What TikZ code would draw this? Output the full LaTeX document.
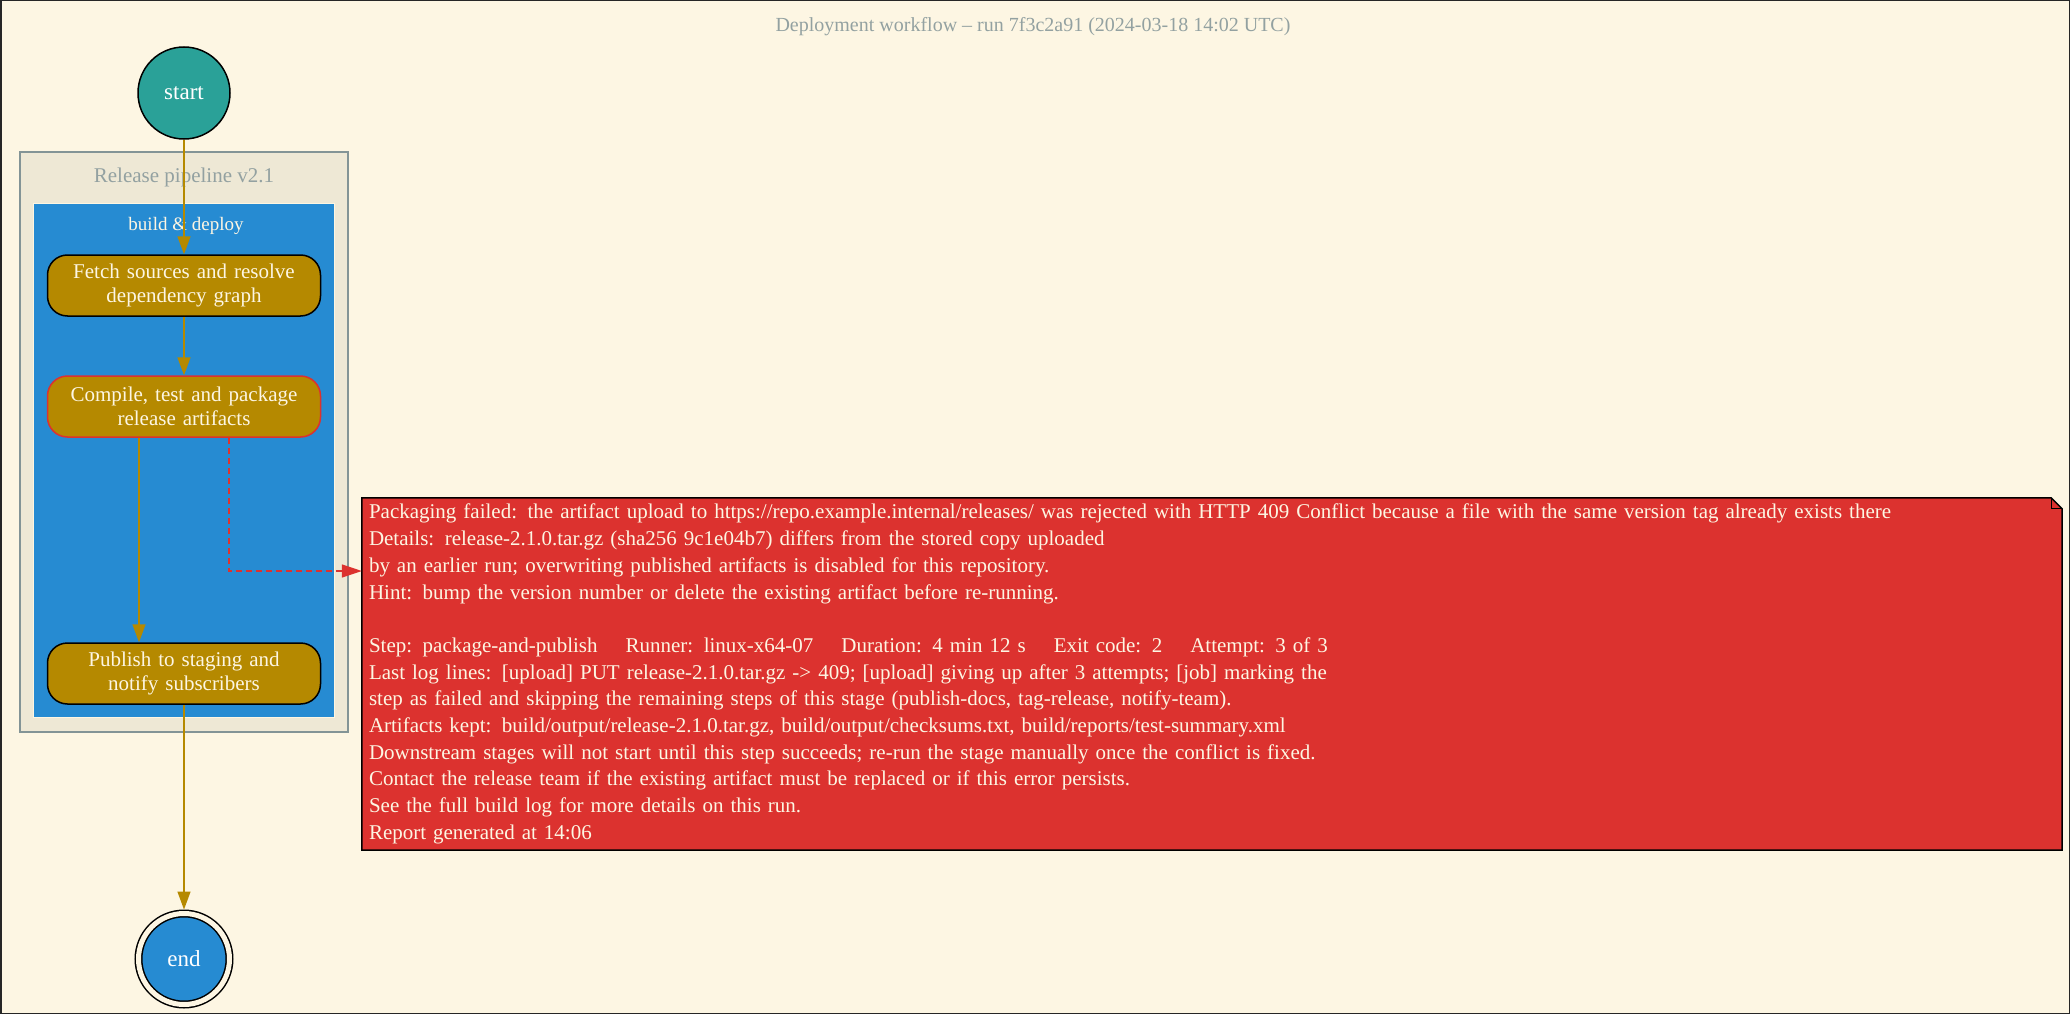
\documentclass[tikz,border=0pt]{standalone}
\usepackage{fontspec}
\setmainfont{Liberation Serif}
\usetikzlibrary{arrows.meta}

\definecolor{paper}{HTML}{FDF6E3}
\definecolor{paperdark}{HTML}{EEE8D5}
\definecolor{greytext}{HTML}{93A1A1}
\definecolor{frameline}{HTML}{839496}
\definecolor{cyanfill}{HTML}{2AA198}
\definecolor{bluefill}{HTML}{268BD2}
\definecolor{goldfill}{HTML}{B58900}
\definecolor{redfill}{HTML}{DC322F}

\begin{document}
\begin{tikzpicture}[
        x=1pt, y=-1pt,
        % State Styles
        startnode/.style={
            circle,
            draw=black,
            line width=1.5pt,
            fill=cyanfill,
            minimum size=92pt,
            inner sep=0pt,
            text=white,
            font=\fontsize{23}{27}\selectfont
        },
        endnode/.style={
            circle,
            draw=black,
            line width=1.5pt,
            double=paper,
            double distance=5pt,
            fill=bluefill,
            minimum size=91pt,
            inner sep=0pt,
            outer sep=4pt,
            text=white,
            font=\fontsize{23}{27}\selectfont
        },
        stepbox/.style={
            rectangle,
            rounded corners=20pt,
            draw=black,
            line width=1.5pt,
            fill=goldfill,
            minimum width=273pt,
            minimum height=61pt,
            text width=266pt,
            inner sep=0pt,
            align=center,
            text=paper,
            font=\fontsize{21}{24}\selectfont
        },
        % Cluster Styles
        outerbox/.style={
            rectangle,
            draw=frameline,
            line width=1.5pt,
            fill=paperdark,
            minimum width=328pt,
            minimum height=580pt
        },
        innerbox/.style={
            rectangle,
            draw=paper,
            line width=1pt,
            fill=bluefill,
            minimum width=301pt,
            minimum height=514pt
        },
        notebox/.style={
            rectangle,
            fill=redfill,
            minimum width=1700pt,
            minimum height=352pt,
            text width=1686pt,
            inner sep=0pt,
            align=left,
            text=paper,
            font=\fontsize{21}{26.7}\selectfont
        },
        % Connector Styles
        flow/.style={draw=goldfill, line width=1.5pt, -{Triangle[length=18pt,width=13pt]}},
        noteflow/.style={draw=redfill, line width=1.5pt, dash pattern=on 6pt off 4pt,
            -{Triangle[length=20pt,width=13pt]}}
    ]

    % --- Page ---
    \fill[paper] (0,0) rectangle (2070,1014);
    \draw[line width=1.5pt, black!85] (0.75,0.75) rectangle (2069.25,1013.25);
    \node[text=greytext, font=\fontsize{20}{24}\selectfont] (title) at (1033,27)
        {Deployment workflow -- run 7f3c2a91 (2024-03-18 14:02 UTC)};

    % --- Clusters ---
    \node[outerbox] (pipeline) at (184,442) {};
    \node[text=greytext, font=\fontsize{21}{24}\selectfont] (pipetitle) at (184,177) {Release pipeline v2.1};
    \node[innerbox] (stage) at (183.5,460) {};
    \node[text=paper, font=\fontsize{19}{22}\selectfont] (stagetitle) at (186,226) {build \& deploy};

    % --- States ---
    \node[startnode] (start) at (184,93) {start};
    \node[stepbox] (fetch) at (184,285.5) {Fetch sources and resolve\\dependency graph};
    \node[stepbox, draw=redfill] (package) at (184,406.5) {Compile, test and package\\release artifacts};
    \node[stepbox] (publish) at (184,673.5) {Publish to staging and\\notify subscribers};
    \node[endnode] (end) at (184,959) {end};

    % --- Note ---
    \node[notebox] (note) at (1212,674) {%
        Packaging failed: the artifact upload to https://repo.example.internal/releases/ was rejected with HTTP 409 Conflict because a file with the same version tag already exists there\\
        Details: release-2.1.0.tar.gz (sha256 9c1e04b7) differs from the stored copy uploaded\\
        by an earlier run; overwriting published artifacts is disabled for this repository.\\
        Hint: bump the version number or delete the existing artifact before re-running.\\
        \mbox{}\\
        Step: package-and-publish \quad Runner: linux-x64-07 \quad Duration: 4 min 12 s \quad Exit code: 2 \quad Attempt: 3 of 3\\
        Last log lines: [upload] PUT release-2.1.0.tar.gz -> 409; [upload] giving up after 3 attempts; [job] marking the\\
        step as failed and skipping the remaining steps of this stage (publish-docs, tag-release, notify-team).\\
        Artifacts kept: build/output/release-2.1.0.tar.gz, build/output/checksums.txt, build/reports/test-summary.xml\\
        Downstream stages will not start until this step succeeds; re-run the stage manually once the conflict is fixed.\\
        Contact the release team if the existing artifact must be replaced or if this error persists.\\
        See the full build log for more details on this run.\\
        Report generated at 14:06};
    % folded corner
    \fill[paper] ([xshift=-11pt]note.north east) -- (note.north east) -- ([yshift=-11pt]note.north east) -- cycle;
    \draw[line width=1.5pt] (note.north west) -- ([xshift=-11pt]note.north east)
        -- ([yshift=-11pt]note.north east) -- (note.south east) -- (note.south west) -- cycle;
    \draw[line width=1.2pt] ([xshift=-11pt]note.north east) |- ([yshift=-11pt]note.north east);

    % --- Transitions ---
    \draw[flow] (start) -- (fetch);
    \draw[flow] (fetch) -- (package);
    \draw[flow] ([xshift=-45pt]package.south) -- ([xshift=-45pt]publish.north);
    \draw[flow] (publish) -- (end);
    \draw[noteflow] ([xshift=45pt]package.south) |- ([yshift=103pt]note.west);

\end{tikzpicture}
\end{document}
